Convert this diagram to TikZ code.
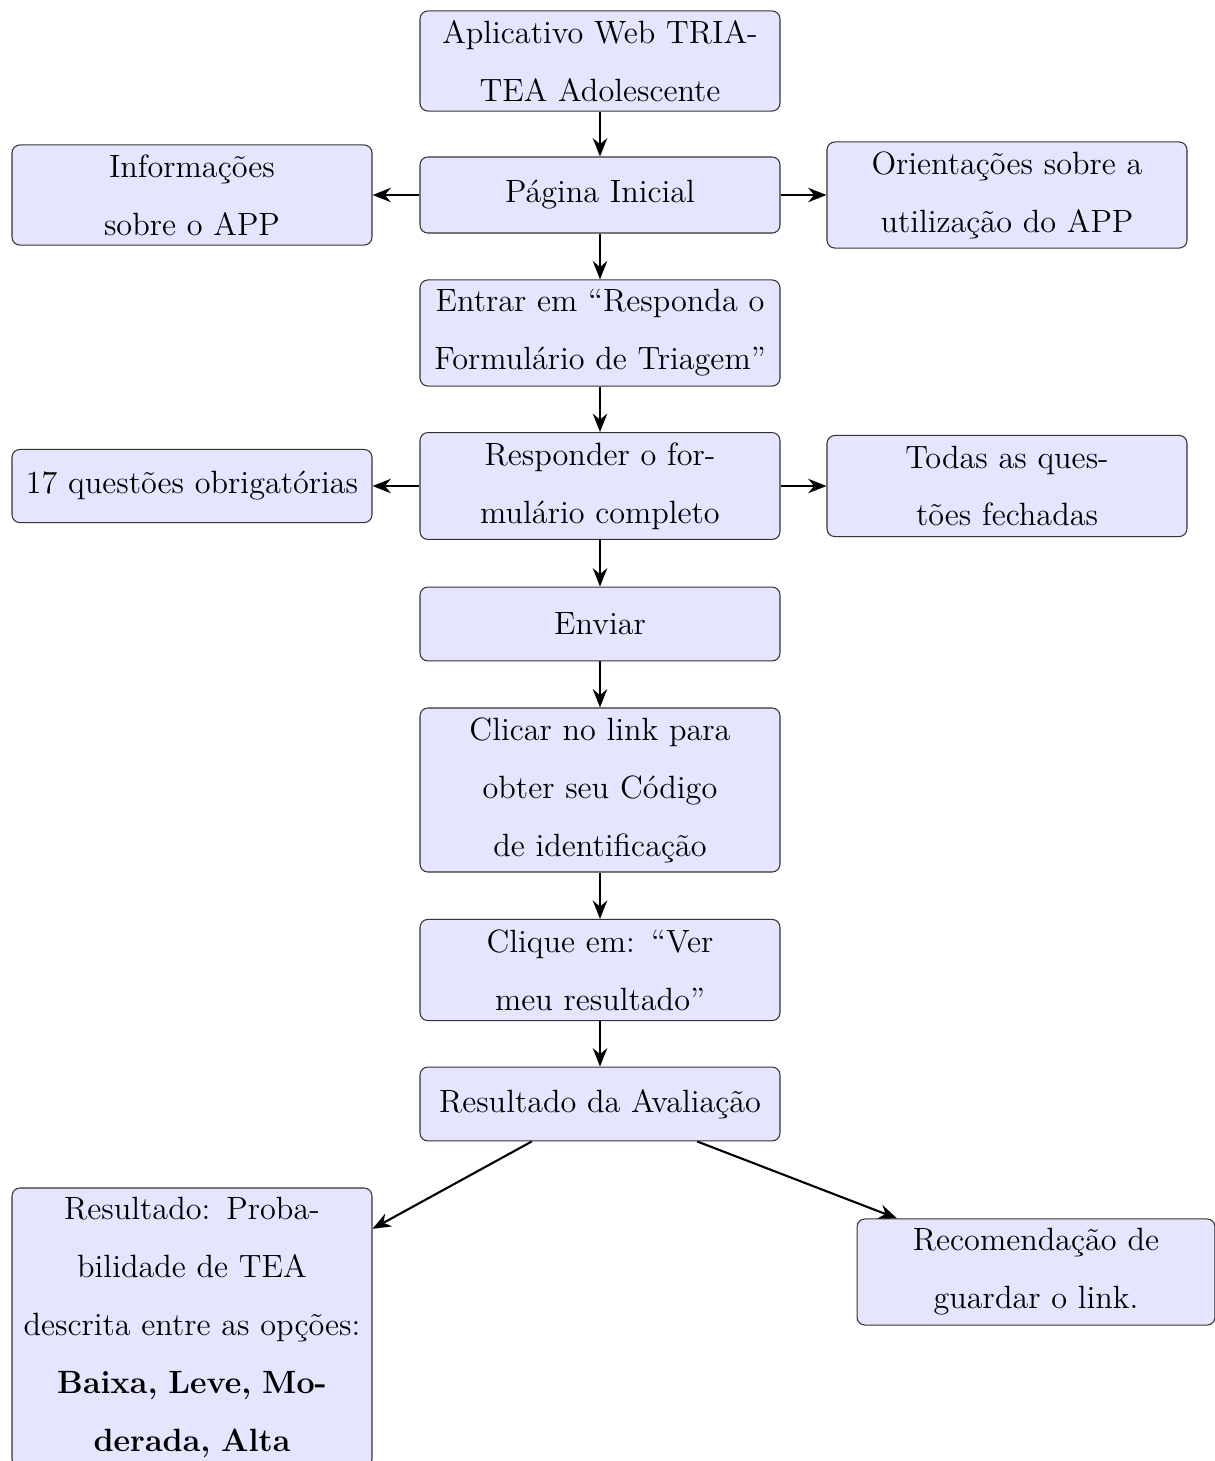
\documentclass[tikz,border=0pt]{standalone}
\usetikzlibrary{arrows.meta}
\begin{document}
\begin{tikzpicture}[x=0.3817pt,y=-0.3817pt,
  box/.style={draw=black!80, fill=blue!10, rounded corners=3pt, align=center,
    text width=133pt, minimum width=137.4pt, inner sep=0pt,
    font=\fontsize{12.3}{22.1}\selectfont},
  arr/.style={-{Stealth[length=7pt,width=5.5pt]}, thick}]
\useasboundingbox (0,0) rectangle (1215,1461);
\node[box, minimum height=38.2pt] (a) at (600,61) {Aplicativo Web TRIA-\\TEA Adolescente};
\node[box, minimum height=29pt] (b) at (600,195) {Página Inicial};
\node[box, minimum height=38.2pt] (l1) at (192,195) {Informações\\sobre o APP};
\node[box, minimum height=40.5pt] (r1) at (1007,195) {Orientações sobre a\\utilização do APP};
\node[box, minimum height=40.5pt] (c) at (600,333) {Entrar em “Responda o\\Formulário de Triagem”};
\node[box, minimum height=40.8pt] (d) at (600,486) {Responder o for-\\mulário completo};
\node[box, minimum height=27.9pt] (l2) at (192,486) {17 questões obrigatórias};
\node[box, minimum height=38.6pt] (r2) at (1007,486) {Todas as ques-\\tões fechadas};
\node[box, minimum height=28.2pt] (e) at (600,624) {Enviar};
\node[box, minimum height=62.6pt] (f) at (600,790) {Clicar no link para\\obter seu Código\\de identificação};
\node[box, minimum height=38.6pt] (g) at (600,970) {Clique em: “Ver\\meu resultado”};
\node[box, minimum height=28.2pt] (h) at (600,1104) {Resultado da Avaliação};
\node[box, minimum height=106.5pt] (l3) at (192,1327.5) {Resultado: Proba-\\bilidade de TEA\\descrita entre as opções:\\\textbf{Baixa, Leve, Mo-}\\\textbf{derada, Alta}};
\node[box, minimum width=136.6pt, minimum height=40.5pt] (r3) at (1036,1272) {Recomendação de\\guardar o link.};
\draw[arr] (a) -- (b);
\draw[arr] (b) -- (l1);
\draw[arr] (b) -- (r1);
\draw[arr] (b) -- (c);
\draw[arr] (c) -- (d);
\draw[arr] (d) -- (l2);
\draw[arr] (d) -- (r2);
\draw[arr] (d) -- (e);
\draw[arr] (e) -- (f);
\draw[arr] (f) -- (g);
\draw[arr] (g) -- (h);
\draw[arr] (h) -- (l3);
\draw[arr] (h) -- (r3);
\end{tikzpicture}
\end{document}
